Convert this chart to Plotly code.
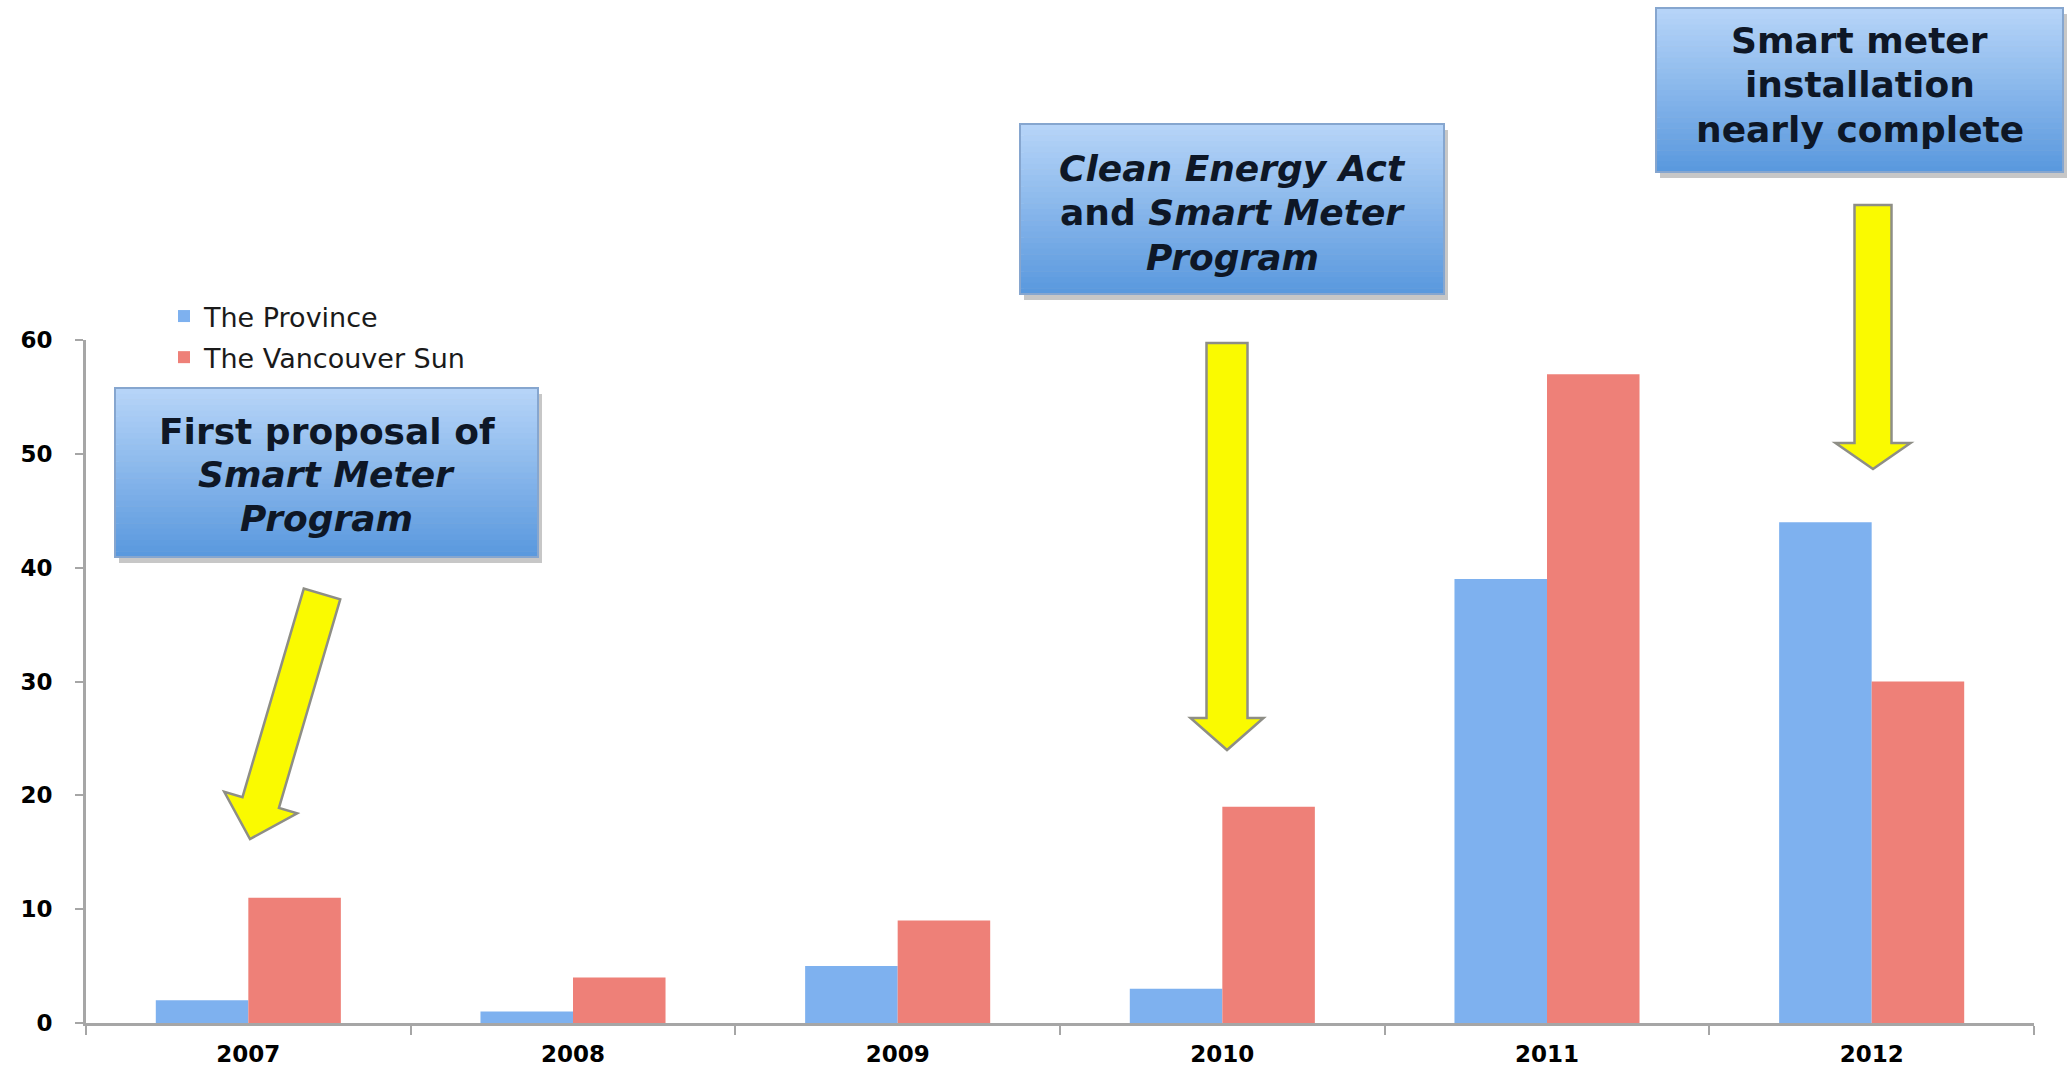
import plotly.graph_objects as go

# ---------------- data ----------------
years = ["2007", "2008", "2009", "2010", "2011", "2012"]
province = [2, 1, 5, 3, 39, 44]
vancouver_sun = [11, 4, 9, 19, 57, 30]
series_names = ["The Province", "The Vancouver Sun"]
y_ticks = [0, 10, 20, 30, 40, 50, 60]

callout_lines = [
    ["First proposal of", "<i>Smart Meter</i>", "<i>Program</i>"],
    ["<i>Clean Energy Act</i>", "and <i>Smart Meter</i>", "<i>Program</i>"],
    ["Smart meter", "installation", "nearly complete"],
]

# ---------------- geometry helpers (page pixels -> paper) ----------------
W, H = 2072, 1073
ML, MR, MT, MB = 86, 38, 340, 50
PW, PH = W - ML - MR, H - MT - MB


def px_x(x):
    return (x - ML) / PW


def px_y(y):
    return (H - MB - y) / PH


def lerp_color(c1, c2, t):
    a = [int(c1[i:i + 2], 16) for i in (1, 3, 5)]
    b = [int(c2[i:i + 2], 16) for i in (1, 3, 5)]
    return "rgb(%d,%d,%d)" % tuple(round(a[k] + (b[k] - a[k]) * t) for k in range(3))


# callout boxes in page pixels (x0, y0, x1, y1) and their line centres
boxes = [
    (115, 388, 538, 557),
    (1020, 124, 1444, 294),
    (1656, 8, 2063, 172),
]
line_y = [
    (431, 474, 518),
    (168, 213, 258),
    (40, 85, 130),
]
# arrows: (tail_x, tail_y, tip_x, tip_y, shaft_w, head_w, head_len)
arrows = [
    (322, 594, 250, 839, 38, 76, 38),
    (1227, 343, 1227, 750, 41, 73, 32),
    (1873, 205, 1873, 469, 37, 75, 26),
]

fig = go.Figure()
fig.add_trace(go.Bar(
    x=years, y=province, name=series_names[0],
    marker=dict(color="#7EB1EF", line=dict(width=0)),
    legendgroup="a",
))
fig.add_trace(go.Bar(
    x=years, y=vancouver_sun, name=series_names[1],
    marker=dict(color="#EE8078", line=dict(width=0)),
    legendgroup="b",
))

shapes = []
annotations = []

# gradient callout boxes
N = 30
top_c, bot_c = "#B6D4F8", "#5A99DE"
for (x0, y0, x1, y1), lines, ys in zip(boxes, callout_lines, line_y):
    # shadow
    shapes.append(dict(type="rect", xref="paper", yref="paper",
                       x0=px_x(x0 + 4), x1=px_x(x1 + 4), y0=px_y(y1 + 6), y1=px_y(y0 + 6),
                       fillcolor="rgba(0,0,0,0.22)", line=dict(width=0), layer="above"))
    h = (y1 - y0) / N
    for i in range(N):
        shapes.append(dict(type="rect", xref="paper", yref="paper",
                           x0=px_x(x0), x1=px_x(x1),
                           y0=px_y(y0 + (i + 1) * h + 0.5), y1=px_y(y0 + i * h),
                           fillcolor=lerp_color(top_c, bot_c, i / (N - 1)),
                           line=dict(width=0), layer="above"))
    shapes.append(dict(type="rect", xref="paper", yref="paper",
                       x0=px_x(x0), x1=px_x(x1), y0=px_y(y1), y1=px_y(y0),
                       fillcolor="rgba(0,0,0,0)", line=dict(color="#86A6CF", width=2),
                       layer="above"))
    for txt, ly in zip(lines, ys):
        annotations.append(dict(
            xref="paper", yref="paper",
            x=px_x((x0 + x1) / 2), y=px_y(ly),
            xanchor="center", yanchor="middle",
            text=txt, showarrow=False, align="center",
            font=dict(family="DejaVu Sans", size=36, color="#0E1726", weight="bold"),
        ))

# yellow block arrows
for (tx, ty, hx, hy, sw, hw, hl) in arrows:
    dx, dy = hx - tx, hy - ty
    L = (dx * dx + dy * dy) ** 0.5
    ux, uy = dx / L, dy / L
    nx, ny = -uy, ux
    bx, by = hx - ux * hl, hy - uy * hl
    pts = [
        (tx + nx * sw / 2, ty + ny * sw / 2),
        (bx + nx * sw / 2, by + ny * sw / 2),
        (bx + nx * hw / 2, by + ny * hw / 2),
        (hx, hy),
        (bx - nx * hw / 2, by - ny * hw / 2),
        (bx - nx * sw / 2, by - ny * sw / 2),
        (tx - nx * sw / 2, ty - ny * sw / 2),
    ]
    path = "M " + " L ".join("%f,%f" % (px_x(px), px_y(py)) for px, py in pts) + " Z"
    shapes.append(dict(type="path", xref="paper", yref="paper", path=path,
                       fillcolor="#FAFA00", line=dict(color="#8E8E86", width=2.5),
                       layer="above"))

fig.update_layout(
    width=W, height=H,
    margin=dict(l=ML, r=MR, t=MT, b=MB, pad=0, autoexpand=False),
    paper_bgcolor="white", plot_bgcolor="white",
    barmode="group", bargap=0.43, bargroupgap=0.0,
    shapes=shapes, annotations=annotations,
    showlegend=True,
    legend=dict(
        x=px_x(164), y=px_y(292), xanchor="left", yanchor="top",
        orientation="v", bgcolor="rgba(0,0,0,0)",
        font=dict(family="DejaVu Sans", size=27, color="#1a1a1a"),
        tracegroupgap=3, itemclick=False,
    ),
    xaxis=dict(
        type="category", showgrid=False, zeroline=False, automargin=False,
        showline=True, linecolor="#A6A6A6", linewidth=3,
        ticks="outside", tickson="boundaries", ticklen=9, tickwidth=2, tickcolor="#A6A6A6",
        tickfont=dict(family="DejaVu Sans", size=23, color="#000000", weight="bold"),
        ticklabelstandoff=8,
    ),
    yaxis=dict(
        range=[0, 60], tickvals=y_ticks, ticktext=[str(v) for v in y_ticks],
        showgrid=False, zeroline=False, automargin=False,
        showline=True, linecolor="#A6A6A6", linewidth=3,
        ticks="outside", ticklen=8, tickwidth=2, tickcolor="#A6A6A6",
        tickfont=dict(family="DejaVu Sans", size=23, color="#000000", weight="bold"),
        ticklabelstandoff=18,
    ),
    font=dict(family="DejaVu Sans"),
)

fig.write_html("out.html")
